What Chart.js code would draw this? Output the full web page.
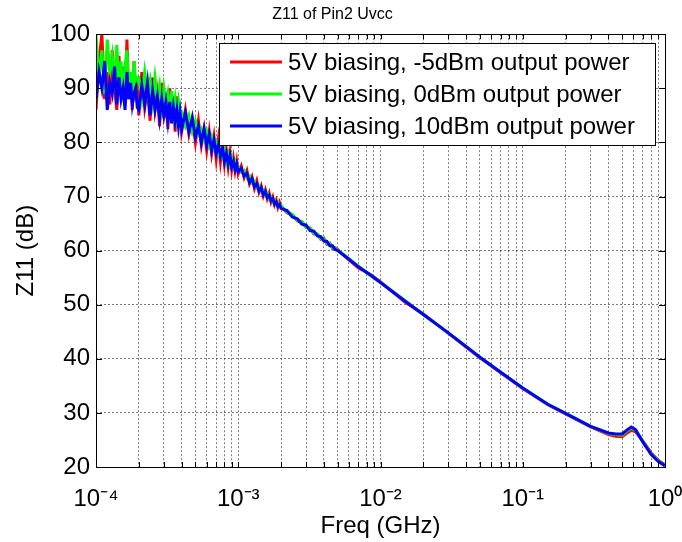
<!DOCTYPE html>
<html>
<head>
<meta charset="utf-8">
<script src="https://cdn.jsdelivr.net/npm/chart.js@4.4.1/dist/chart.umd.min.js"></script>
<style>
html, body { margin: 0; padding: 0; background: #fff; }
</style>
</head>
<body>
<canvas id="c" width="682" height="542"></canvas>
<script>
// frequency in GHz: dense at the noisy low end, sparse where the curve is smooth
const freq = [
  1.00e-4, 1.05e-4, 1.10e-4, 1.15e-4, 1.20e-4, 1.25e-4, 1.30e-4, 1.35e-4, 1.40e-4, 1.45e-4,
  1.50e-4, 1.55e-4, 1.60e-4, 1.65e-4, 1.70e-4, 1.75e-4, 1.80e-4, 1.85e-4, 1.90e-4, 1.95e-4,
  2.0e-4, 2.1e-4, 2.2e-4, 2.3e-4, 2.4e-4, 2.5e-4, 2.6e-4, 2.7e-4, 2.8e-4, 2.9e-4,
  3.0e-4, 3.1e-4, 3.2e-4, 3.3e-4, 3.4e-4, 3.5e-4, 3.6e-4, 3.7e-4, 3.8e-4, 3.9e-4,
  4.00e-4, 4.25e-4, 4.50e-4, 4.75e-4, 5.00e-4, 5.25e-4, 5.50e-4, 5.75e-4, 6.00e-4, 6.25e-4,
  6.50e-4, 6.75e-4, 7.00e-4, 7.25e-4, 7.50e-4, 7.75e-4, 8.00e-4, 8.25e-4, 8.50e-4, 8.75e-4,
  9.00e-4, 9.25e-4, 9.50e-4, 9.75e-4,
  1.00e-3, 1.05e-3, 1.10e-3, 1.15e-3, 1.20e-3, 1.25e-3, 1.30e-3, 1.35e-3, 1.40e-3, 1.45e-3,
  1.50e-3, 1.55e-3, 1.60e-3, 1.65e-3, 1.70e-3, 1.75e-3, 1.80e-3, 1.85e-3, 1.90e-3, 1.95e-3,
  2.0e-3, 2.2e-3, 2.4e-3, 2.6e-3, 2.8e-3, 3.0e-3, 3.2e-3, 3.4e-3, 3.6e-3, 3.8e-3,
  4.0e-3, 4.2e-3, 4.4e-3, 4.6e-3, 4.8e-3,
  5e-3, 6e-3, 7e-3, 8.5e-3, 1e-2, 1.5e-2, 2e-2, 3e-2, 5e-2, 7e-2,
  0.1, 0.15, 0.2, 0.3, 0.4, 0.45, 0.5, 0.55, 0.58, 0.62,
  0.7, 0.8, 0.9, 1.0
];

// Z11 (dB), 5V biasing, -5dBm output power
const zMinus5 = [
  86, 95, 100, 88, 93, 87, 97, 90, 86, 96,
  89, 94, 87, 99, 88, 92, 86, 95, 89, 90,
  85, 93, 86.5, 90, 84, 92, 86, 89, 83, 91,
  84.5, 88, 82.5, 90, 84, 87.5, 82, 88.5, 83, 86,
  82, 86, 81.5, 84.5, 80, 84, 79.5, 82.5, 78.5, 82,
  78, 81, 77, 80.5, 76.5, 79.5, 76, 78.5, 75.5, 78,
  75, 77, 74.8, 76.5,
  74.2, 75.6, 73.5, 74.8, 72.4, 73.6, 71.5, 72.9, 70.8, 71.9,
  70.1, 71.2, 69.6, 70.6, 69.0, 69.9, 68.5, 69.3, 68.0, 68.9,
  68.1, 67.0, 66.6, 65.5, 65.3, 64.3, 64.1, 63.1, 63.0, 62.1,
  62.3, 61.2, 61.4, 60.4, 60.5,
  60.2, 58.3, 56.8, 55.6, 54.2, 50.4, 48.3, 44.7, 40.2, 37.4,
  34.5, 31.5, 29.8, 27.4, 26.0, 25.7, 25.6, 26.4, 26.8, 26.5,
  24.8, 22.6, 21.2, 20.4
];

// Z11 (dB), 5V biasing, 0dBm output power
const z0 = [
  100, 92, 97, 89, 99, 93, 96, 90, 98, 91,
  95, 89, 94, 97, 90, 93, 88, 95, 91, 92,
  92, 88, 93, 89, 91.5, 87.5, 92, 88, 90.5, 86.5,
  90, 87, 89, 86, 89.5, 85.5, 88, 85, 87.5, 85,
  85.5, 83, 85, 82, 84, 81.5, 82.5, 80.5, 82, 79.5,
  81, 79, 80, 78, 79.5, 77.5, 78.5, 76.5, 77.8, 76,
  77, 75.5, 76.3, 75.2,
  75.6, 74.5, 74.8, 73.4, 73.8, 72.5, 72.8, 71.6, 71.9, 70.9,
  71.2, 70.2, 70.6, 69.6, 69.9, 69.0, 69.3, 68.5, 68.8, 68.1,
  68.3, 67.1, 66.7, 65.6, 65.4, 64.3, 64.2, 63.2, 63.1, 62.2,
  62.2, 61.3, 61.3, 60.5, 60.4,
  60.1, 58.5, 57.1, 55.4, 54.1, 50.7, 48.2, 44.8, 40.3, 37.5,
  34.6, 31.6, 29.9, 27.5, 26.2, 26.0, 25.9, 26.8, 27.2, 26.8,
  24.7, 22.4, 21.1, 20.3
];

// Z11 (dB), 5V biasing, 10dBm output power
const z10 = [
  88, 93, 90, 95, 86, 91, 89, 94, 87, 92,
  88, 90, 86, 93, 88, 91, 87, 89, 90, 86.5,
  86, 90.5, 87, 91, 85, 89.5, 86, 88.5, 84.5, 88,
  85, 87.5, 84, 87.5, 83.5, 86.5, 84, 86, 83, 85.5,
  82.5, 85.5, 82, 84.5, 81, 83, 80, 82.5, 79.5, 81.5,
  78.5, 80.5, 78, 79.5, 77.5, 79, 76.5, 78, 76, 77.5,
  75.5, 76.5, 75, 76,
  74.6, 75.2, 73.8, 74.3, 72.6, 73.3, 71.8, 72.4, 71.0, 71.6,
  70.3, 70.9, 69.8, 70.2, 69.2, 69.6, 68.6, 69.0, 68.2, 68.5,
  67.8, 67.4, 66.2, 65.9, 64.9, 64.7, 63.7, 63.6, 62.7, 62.6,
  61.8, 61.7, 60.9, 60.9, 60.2,
  60.0, 58.4, 57.0, 55.5, 54.1, 50.6, 48.2, 44.8, 40.3, 37.5,
  34.6, 31.6, 29.9, 27.5, 26.3, 26.1, 26.1, 27.0, 27.4, 26.9,
  24.6, 22.3, 21.0, 20.2
];

const seriesNames = [
  '5V biasing, -5dBm output power',
  '5V biasing, 0dBm output power',
  '5V biasing, 10dBm output power'
];
const seriesColors = ['#ff0000', '#00ff00', '#0000ff'];

const yMin = 20, yMax = 100, yStep = 10;
const xMin = 1e-4, xMax = 1;

const sup = { '-': '\u207B', '0': '\u2070', '1': '\u00B9', '2': '\u00B2', '3': '\u00B3', '4': '\u2074' };

// log grid: 1..9 x each decade
function logTicks(min, max) {
  const out = [];
  for (let e = Math.log10(min); e < Math.log10(max); e++) {
    for (let m = 1; m < 10; m++) out.push(m * Math.pow(10, e));
  }
  out.push(max);
  return out;
}

function toPoints(ys) {
  return freq.map((f, i) => ({ x: f, y: ys[i] }));
}

const FONT = 'Arial, "Liberation Sans", sans-serif';

// box round the axes, inward ticks, and the boxed legend
const matlabFrame = {
  id: 'matlabFrame',
  afterDatasetsDraw(chart) {
    const ctx = chart.ctx;
    const a = chart.chartArea;
    const xs = chart.scales.x, ys = chart.scales.y;
    ctx.save();
    ctx.strokeStyle = '#000';
    ctx.lineWidth = 1;
    ctx.strokeRect(Math.round(a.left) + 0.5, Math.round(a.top) + 0.5,
      Math.round(a.right - a.left), Math.round(a.bottom - a.top));

    ctx.beginPath();
    xs.ticks.forEach(t => {
      const px = Math.round(xs.getPixelForValue(t.value)) + 0.5;
      ctx.moveTo(px, a.bottom); ctx.lineTo(px, a.bottom - 5);
      ctx.moveTo(px, a.top); ctx.lineTo(px, a.top + 5);
    });
    ys.ticks.forEach(t => {
      const py = Math.round(ys.getPixelForValue(t.value)) + 0.5;
      ctx.moveTo(a.left, py); ctx.lineTo(a.left + 6, py);
      ctx.moveTo(a.right, py); ctx.lineTo(a.right - 6, py);
    });
    ctx.stroke();

    // legend
    const w = 436, h = 102;
    const bx = Math.round(a.right - 10 - w), by = Math.round(a.top + 9);
    ctx.fillStyle = '#fff';
    ctx.fillRect(bx, by, w, h);
    ctx.strokeRect(bx + 0.5, by + 0.5, w, h);
    ctx.font = '24px ' + FONT;
    ctx.textBaseline = 'middle';
    ctx.textAlign = 'left';
    chart.data.datasets.forEach((ds, i) => {
      const ry = by + 19 + i * 32;
      ctx.strokeStyle = ds.borderColor;
      ctx.lineWidth = 3;
      ctx.beginPath();
      ctx.moveTo(bx + 11, ry); ctx.lineTo(bx + 63, ry);
      ctx.stroke();
      ctx.fillStyle = '#000';
      ctx.fillText(ds.label, bx + 69, ry + 1);
    });
    ctx.restore();
  }
};

const datasets = [zMinus5, z0, z10].map((ys, i) => ({
  label: seriesNames[i],
  data: toPoints(ys),
  borderColor: seriesColors[i],
  backgroundColor: seriesColors[i],
  borderWidth: 3,
  pointRadius: 0,
  tension: 0,
  order: 3 - i
}));

new Chart(document.getElementById('c'), {
  type: 'line',
  data: { datasets },
  options: {
    responsive: false,
    devicePixelRatio: 1,
    animation: false,
    layout: { padding: { left: 0, right: 17, top: 0, bottom: 0 } },
    plugins: {
      legend: { display: false },
      tooltip: { enabled: false },
      title: {
        display: true,
        text: 'Z11 of Pin2 Uvcc',
        color: '#000',
        font: { family: FONT, size: 16, weight: 'normal' },
        padding: { top: 5, bottom: 10 }
      }
    },
    scales: {
      x: {
        type: 'logarithmic',
        min: xMin,
        max: xMax,
        afterBuildTicks: s => { s.ticks = logTicks(xMin, xMax).map(v => ({ value: v })); },
        afterFit: s => { s.height = 75; s.paddingLeft = 0; s.paddingRight = 0; },
        ticks: {
          autoSkip: false,
          maxRotation: 0,
          padding: 18,
          color: '#000',
          font: { family: FONT, size: 24 },
          callback: v => {
            const e = Math.log10(v);
            if (Math.abs(e - Math.round(e)) > 1e-9) return '';
            return '10' + String(Math.round(e)).split('').map(c => sup[c]).join('');
          }
        },
        grid: { color: 'rgba(0,0,0,0.5)', drawTicks: false },
        border: { display: false, dash: [2, 2] },
        title: {
          display: true,
          text: 'Freq (GHz)',
          color: '#000',
          font: { family: FONT, size: 24 },
          padding: 1
        }
      },
      y: {
        min: yMin,
        max: yMax,
        afterFit: s => { s.width = 96; },
        ticks: {
          stepSize: yStep,
          padding: 6,
          color: '#000',
          font: { family: FONT, size: 24 }
        },
        grid: { color: 'rgba(0,0,0,0.5)', drawTicks: false },
        border: { display: false, dash: [2, 2] },
        title: {
          display: true,
          text: 'Z11 (dB)',
          color: '#000',
          font: { family: FONT, size: 24 },
          padding: { top: 12, bottom: 0 }
        }
      }
    }
  },
  plugins: [matlabFrame]
});
</script>
</body>
</html>
